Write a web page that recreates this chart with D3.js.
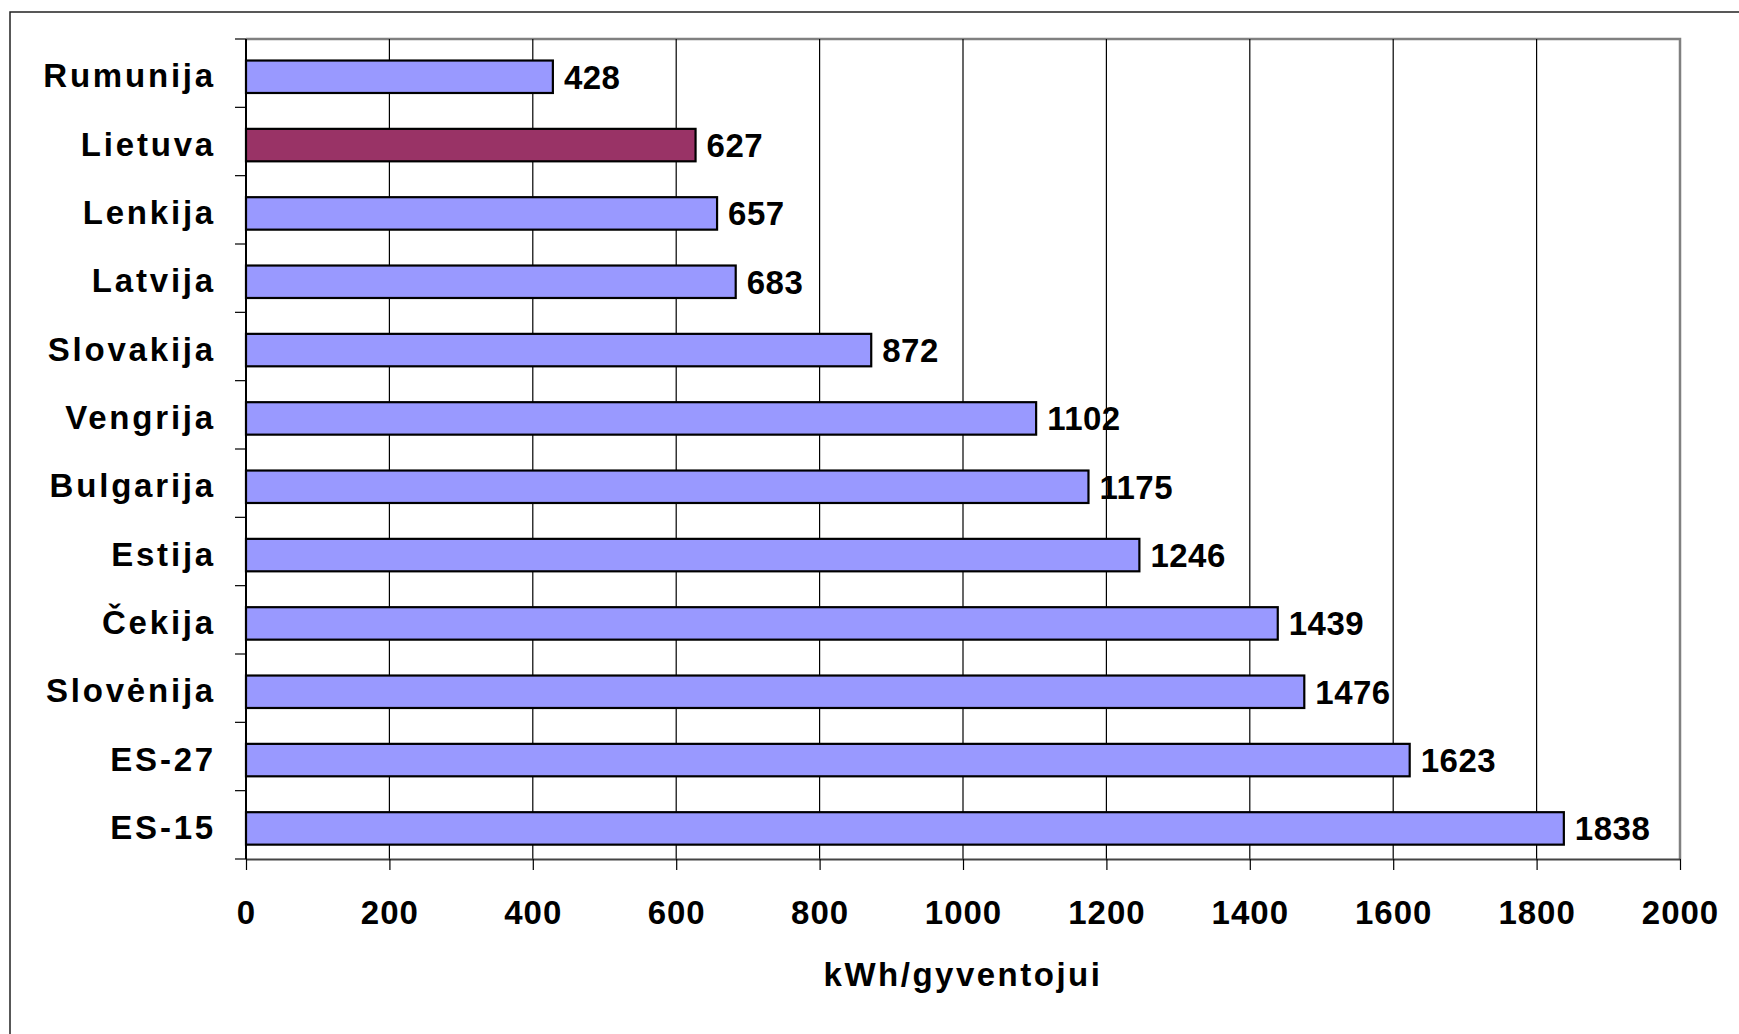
<!DOCTYPE html>
<html>
<head>
<meta charset="utf-8">
<script src="https://cdn.jsdelivr.net/npm/d3@7"></script>
<style>
body { margin: 0; background: #fff; }
svg { display: block; }
text { font-family: "Liberation Sans", Arial, sans-serif; font-weight: bold; fill: #000; }
</style>
</head>
<body>
<svg width="1739" height="1034"></svg>
<script>
var countries = ["Rumunija", "Lietuva", "Lenkija", "Latvija", "Slovakija", "Vengrija", "Bulgarija", "Estija", "Čekija", "Slovėnija", "ES-27", "ES-15"];
var values = [428, 627, 657, 683, 872, 1102, 1175, 1246, 1439, 1476, 1623, 1838];
var highlight = ["Lietuva"];
var xTicks = [0, 200, 400, 600, 800, 1000, 1200, 1400, 1600, 1800, 2000];
var axisTitle = "kWh/gyventojui";

function main() {
	var svg = d3.select("svg");
	var left = 246, right = 1680, top = 39, bottom = 859;

	// outer frame (right and bottom sides go past the page)
	svg.append("rect").attr("x", 10).attr("y", 12).attr("width", 1760).attr("height", 1060)
		.attr("fill", "none").attr("stroke", "#222").attr("stroke-width", 1.5);

	var x = d3.scaleLinear().domain([0, 2000]).range([left, right]);
	var y = d3.scaleBand().domain(countries).range([top, bottom]).padding(0);
	var step = y.step();

	var g = svg.append("g");

	// plot area border top/right in grey
	g.append("path").attr("d", "M" + left + "," + top + "H" + right + "V" + bottom)
		.attr("fill", "none").attr("stroke", "#808080").attr("stroke-width", 2.5);

	// gridlines
	g.selectAll(".grid").data(xTicks.slice(1, -1)).enter().append("line")
		.attr("x1", function(d){ return x(d); }).attr("x2", function(d){ return x(d); })
		.attr("y1", top).attr("y2", bottom)
		.attr("stroke", "#000").attr("stroke-width", 1.2);

	// x axis
	var xAxis = g.append("g").attr("transform", "translate(0," + bottom + ")")
		.call(d3.axisBottom(x).tickValues(xTicks).tickFormat(d3.format("d")).tickSize(11).tickSizeOuter(0));
	xAxis.select(".domain").attr("stroke", "#444").attr("stroke-width", 2);
	xAxis.selectAll(".tick line").attr("stroke", "#000").attr("stroke-width", 1.2);
	xAxis.selectAll(".tick text").attr("font-size", "33px").attr("letter-spacing", "1px")
		.attr("dy", "0.35em").attr("y", 53);

	// y axis
	var yTickPos = d3.range(countries.length + 1).map(function(i){ return top + i * step; });
	g.append("line").attr("x1", left).attr("x2", left).attr("y1", top).attr("y2", bottom)
		.attr("stroke", "#000").attr("stroke-width", 2);
	g.selectAll(".ytick").data(yTickPos).enter().append("line")
		.attr("x1", left - 11).attr("x2", left).attr("y1", function(d){ return d; }).attr("y2", function(d){ return d; })
		.attr("stroke", "#000").attr("stroke-width", 1.2);

	g.selectAll(".ylab").data(countries).enter().append("text")
		.attr("x", 216).attr("y", function(d){ return y(d) + step * 0.54; })
		.attr("dy", "0.35em").attr("text-anchor", "end")
		.attr("font-size", "33px").attr("letter-spacing", "2.8px")
		.text(function(d){ return d; });

	// bars
	var data = countries.map(function(c, i){ return { name: c, value: values[i] }; });
	g.selectAll(".bar").data(data).enter().append("rect")
		.attr("x", x(0))
		.attr("y", function(d){ return y(d.name) + step * 0.315; })
		.attr("width", function(d){ return x(d.value) - x(0); })
		.attr("height", step * 0.475)
		.attr("fill", function(d){ return highlight.indexOf(d.name) >= 0 ? "#993366" : "#9999FF"; })
		.attr("stroke", "#000").attr("stroke-width", 2.2);

	g.selectAll(".val").data(data).enter().append("text")
		.attr("x", function(d){ return x(d.value) + 11; })
		.attr("y", function(d){ return y(d.name) + step * 0.56; })
		.attr("dy", "0.35em")
		.attr("font-size", "33px").attr("letter-spacing", "0.5px")
		.text(function(d){ return d.value; });

	svg.append("text").attr("x", (left + right) / 2).attr("y", 974).attr("dy", "0.35em")
		.attr("text-anchor", "middle").attr("font-size", "33px").attr("letter-spacing", "2.5px")
		.text(axisTitle);
}
main();
</script>
</body>
</html>
